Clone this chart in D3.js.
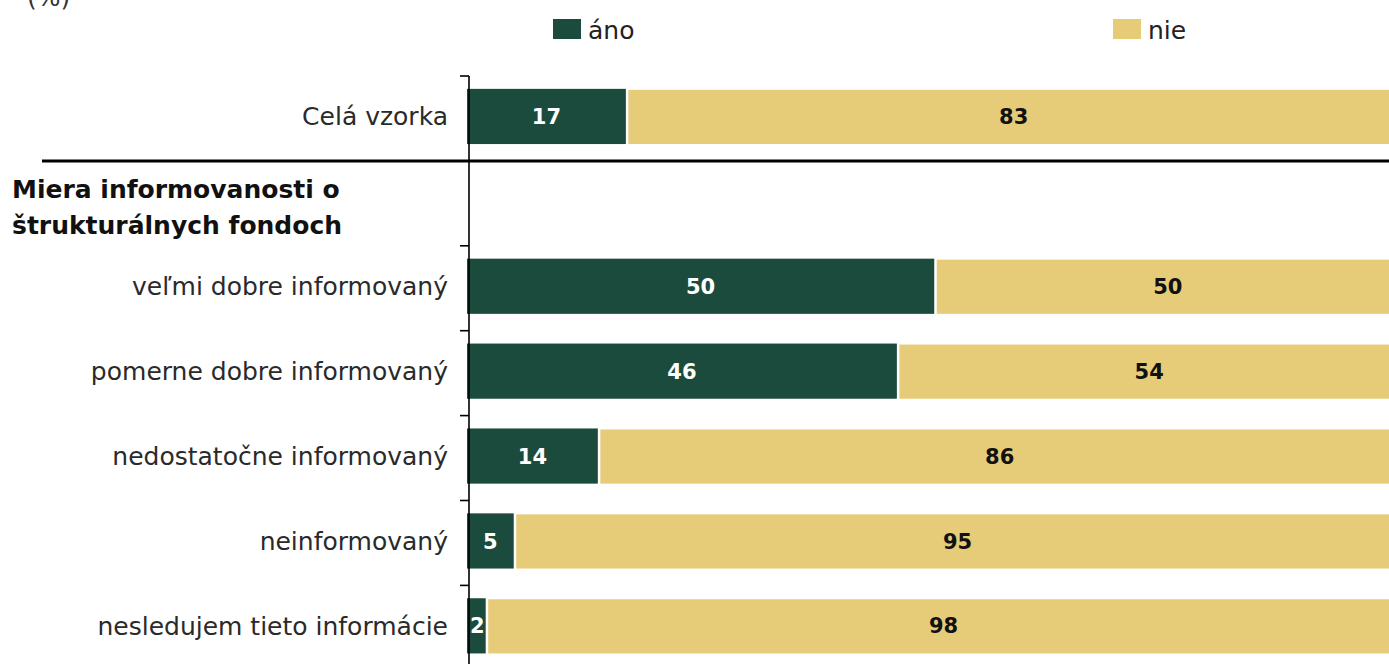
<!DOCTYPE html>
<html>
<head>
<meta charset="utf-8">
<script src="https://cdn.jsdelivr.net/npm/d3@7"></script>
<style>
  html, body { margin: 0; padding: 0; background: #fff; overflow: hidden; }
  svg { display: block; }
</style>
</head>
<body>
<svg id="chart" width="1389" height="664"></svg>
<script>
const categories = [
  "Celá vzorka",
  "Miera informovanosti o štrukturálnych fondoch",
  "veľmi dobre informovaný",
  "pomerne dobre informovaný",
  "nedostatočne informovaný",
  "neinformovaný",
  "nesledujem tieto informácie"
];
const headingCategory = "Miera informovanosti o štrukturálnych fondoch";
const headingLines = ["Miera informovanosti o", "štrukturálnych fondoch"];
const seriesNames = ["áno", "nie"];
const anoValues = [17, null, 50, 46, 14, 5, 2];
const nieValues = [83, null, 50, 54, 86, 95, 98];
const unitLabel = "(%)";

const colors = { "áno": "#1b4b3c", "nie": "#e6cc79" };
const labelFont = "'DejaVu Sans', Verdana, sans-serif";
const valueFont = "'DejaVu Sans', Verdana, sans-serif";

const svg = d3.select("#chart");

const rows = d3.scaleBand().domain(categories).range([76, 76 + 84.9 * categories.length]);
const bars = d3.scaleBand().domain(categories).range([74, 74 + 84.9 * categories.length])
  .paddingInner(0.35).paddingOuter(0.175);
const x = d3.scaleLinear().domain([0, 100]).range([467, 1401.5]);

// unit label (clipped at top)
svg.append("text").attr("x", 27).attr("y", 6)
  .attr("font-family", labelFont).attr("font-size", 25).attr("fill", "#333")
  .text(unitLabel);

// legend
const legendX = { "áno": 553, "nie": 1113 };
seriesNames.forEach(s => {
  svg.append("rect").attr("x", legendX[s]).attr("y", 19).attr("width", 28).attr("height", 20)
    .attr("fill", colors[s]);
  svg.append("text").attr("x", legendX[s] + 35).attr("y", 39)
    .attr("font-family", labelFont).attr("font-size", 25).attr("fill", "#222")
    .text(s);
});

// bars
const data = categories.map((c, i) => ({ cat: c, ano: anoValues[i], nie: nieValues[i] }))
  .filter(d => d.ano != null);

const g = svg.append("g");
data.forEach(d => {
  const y0 = bars(d.cat), h = bars.bandwidth();
  g.append("rect").attr("x", x(0)).attr("y", y0)
    .attr("width", x(d.ano) - x(0)).attr("height", h)
    .attr("fill", colors["áno"]);
  g.append("rect").attr("x", x(d.ano) + 2.5).attr("y", y0 + 1)
    .attr("width", x(d.ano + d.nie) - x(d.ano) - 2.5).attr("height", h - 1)
    .attr("fill", colors["nie"]);
  g.append("text").attr("x", (x(0) + x(d.ano)) / 2 + (d.ano < 5 ? 1 : 0)).attr("y", y0 + h / 2)
    .attr("dy", "0.36em").attr("text-anchor", "middle")
    .attr("font-family", valueFont).attr("font-weight", "bold").attr("font-size", 21)
    .attr("fill", "#fff").text(d.ano);
  g.append("text").attr("x", (x(d.ano) + x(d.ano + d.nie)) / 2).attr("y", y0 + h / 2)
    .attr("dy", "0.36em").attr("text-anchor", "middle")
    .attr("font-family", valueFont).attr("font-weight", "bold").attr("font-size", 21)
    .attr("fill", "#111").text(d.nie);
});

// category axis: line + boundary ticks
const axisX = 469;
svg.append("line").attr("x1", axisX).attr("x2", axisX)
  .attr("y1", rows.range()[0]).attr("y2", 664 + 10)
  .attr("stroke", "#000").attr("stroke-width", 1.6);
categories.forEach(c => {
  svg.append("line").attr("x1", axisX - 9).attr("x2", axisX)
    .attr("y1", rows(c)).attr("y2", rows(c))
    .attr("stroke", "#000").attr("stroke-width", 1.6);
});

// category labels
categories.forEach(c => {
  if (c === headingCategory) return;
  svg.append("text").attr("x", 448).attr("y", bars(c) + bars.bandwidth() / 2)
    .attr("dy", "0.36em").attr("text-anchor", "end")
    .attr("font-family", labelFont).attr("font-size", 25).attr("fill", "#2a2a2a")
    .text(c);
});

// heading label
const hy = rows(headingCategory) + rows.bandwidth() / 2;
const ht = svg.append("text").attr("font-family", labelFont).attr("font-weight", "bold")
  .attr("font-size", 25).attr("fill", "#111");
headingLines.forEach((l, i) => {
  ht.append("tspan").attr("x", 12).attr("y", hy - 5 + i * 36).text(l);
});

// section separator
svg.append("line").attr("x1", 42).attr("x2", 1389)
  .attr("y1", rows(headingCategory)).attr("y2", rows(headingCategory))
  .attr("stroke", "#000").attr("stroke-width", 3);
</script>
</body>
</html>
